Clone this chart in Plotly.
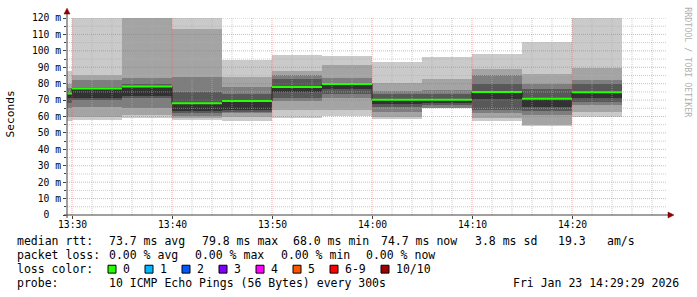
import plotly.graph_objects as go
from datetime import datetime, timedelta

# ---------------- data ----------------
period_start = [
    "2026-01-23 13:25:00", "2026-01-23 13:30:00", "2026-01-23 13:35:00",
    "2026-01-23 13:40:00", "2026-01-23 13:45:00", "2026-01-23 13:50:00",
    "2026-01-23 13:55:00", "2026-01-23 14:00:00", "2026-01-23 14:05:00",
    "2026-01-23 14:10:00", "2026-01-23 14:15:00", "2026-01-23 14:20:00",
]
# sorted ping round-trip times (ms), ping01 = fastest, ping10 = slowest
ping01 = [57.4, 58.0, 59.0, 57.6, 57.0, 59.0, 60.5, 58.4, 64.9, 57.0, 54.5, 59.5]
ping02 = [60.0, 60.0, 61.0, 59.0, 60.0, 64.0, 64.0, 59.6, 65.0, 59.0, 55.0, 63.0]
ping03 = [65.4, 66.0, 65.0, 60.4, 62.0, 69.4, 71.0, 63.0, 65.1, 62.0, 61.0, 67.0]
ping04 = [68.0, 70.0, 71.4, 62.0, 63.0, 71.4, 74.0, 66.0, 66.8, 64.0, 63.6, 69.0]
ping05 = [71.0, 71.4, 72.5, 63.6, 64.0, 75.0, 76.6, 67.6, 68.0, 70.4, 66.0, 71.0]
ping06 = [74.0, 77.0, 78.2, 68.0, 69.4, 78.0, 79.8, 70.2, 70.2, 75.0, 70.8, 74.7]
ping07 = [75.0, 78.0, 79.5, 75.0, 73.5, 83.0, 80.6, 73.5, 73.5, 80.0, 76.6, 80.0]
ping08 = [77.4, 82.0, 83.4, 84.0, 78.0, 85.0, 83.4, 75.5, 76.0, 85.4, 80.0, 82.0]
ping09 = [80.0, 85.0, 125.0, 113.0, 84.0, 88.0, 91.6, 80.4, 83.0, 89.0, 86.0, 89.6]
ping10 = [88.0, 130.0, 135.0, 130.0, 94.5, 97.4, 97.0, 93.0, 96.0, 98.0, 105.5, 125.0]
median_rtt = [74.0, 77.0, 78.2, 68.0, 69.4, 78.0, 79.8, 70.2, 70.2, 75.0, 70.8, 74.7]

y_tick_values = [0, 10, 20, 30, 40, 50, 60, 70, 80, 90, 100, 110, 120]
y_tick_labels = ["0\u00a0\u00a0", "10 m", "20 m", "30 m", "40 m", "50 m", "60 m", "70 m",
                 "80 m", "90 m", "100 m", "110 m", "120 m"]
x_tick_times = ["2026-01-23 13:30:00", "2026-01-23 13:40:00", "2026-01-23 13:50:00",
                "2026-01-23 14:00:00", "2026-01-23 14:10:00", "2026-01-23 14:20:00"]
x_tick_labels = ["13:30", "13:40", "13:50", "14:00", "14:10", "14:20"]

loss_labels = ["0", "1", "2", "3", "4", "5", "6-9", "10/10"]
loss_colors = ["#26ff00", "#00b8ff", "#0059ff", "#7e00ff", "#ff00ff",
               "#ff5500", "#ff0000", "#a10000"]

stats_line1 = ["median rtt:", "73.7 ms avg", "79.8 ms max", "68.0 ms min",
               "74.7 ms now", "3.8 ms sd", "19.3", "am/s"]
stats_line2 = ["packet loss:", "0.00 % avg", "0.00 % max", "0.00 % min", "0.00 % now"]
probe_text = "10 ICMP Echo Pings (56 Bytes) every 300s"
stamp_text = "Fri Jan 23 14:29:29 2026"

# ---------------- layout helpers ----------------
W, H = 697, 297
L, R, T, B = 67, 30, 15, 82
PW, PH = W - L - R, H - T - B
def px(p):  # pixel x -> paper
    return (p - L) / PW
def py(p):  # pixel y -> paper
    return (T + PH - p) / PH

MONO = "DejaVu Sans Mono"
STEP = timedelta(minutes=5)
starts = [datetime.fromisoformat(s) for s in period_start]
ends = [s + STEP for s in starts]
x0 = datetime(2026, 1, 23, 13, 29, 30)
x1 = datetime(2026, 1, 23, 14, 29, 30)
major_x = [datetime.fromisoformat(s) for s in x_tick_times]

fig = go.Figure()

# smoke bands
band_colors = ["#cacaca", "#a4a4a4", "#7e7e7e", "#585858", "#323232"]
lows = [ping01, ping02, ping03, ping04, ping05]
highs = [ping10, ping09, ping08, ping07, ping06]
for lo, hi, col in zip(lows, highs, band_colors):
    fig.add_trace(go.Bar(
        x=starts, base=lo, y=[h - l for h, l in zip(hi, lo)],
        width=STEP.total_seconds() * 1000, offset=0,
        marker=dict(color=col, line=dict(width=0)),
        hoverinfo="skip", showlegend=False))

# grid drawn above the smoke
minor_x = []
t = major_x[0]
while t < x1:
    if t.minute % 10 != 0:
        minor_x.append(t)
    t += timedelta(minutes=2)
minor_y = [v + 5 for v in y_tick_values[:-1]]
major_y = y_tick_values[1:]

def grid_trace(xs, ys, color):
    gx, gy = [], []
    for xv in xs:
        gx += [xv, xv, None]; gy += [0, 120, None]
    for yv in ys:
        gx += [x0, x1, None]; gy += [yv, yv, None]
    return go.Scatter(x=gx, y=gy, mode="lines",
                      line=dict(color=color, width=1, dash="1px,1px"),
                      hoverinfo="skip", showlegend=False)

fig.add_trace(grid_trace(minor_x, minor_y, "rgba(175,175,175,0.65)"))
fig.add_trace(grid_trace(major_x, major_y, "rgba(225,90,90,0.5)"))

# median: thin dark step line + green loss-coloured segments
fig.add_trace(go.Scatter(
    x=starts + [ends[-1]], y=median_rtt + [median_rtt[-1]],
    mode="lines", line=dict(color="#202020", width=1, shape="hv"),
    hoverinfo="skip", showlegend=False))
gx, gy = [], []
for s, e, m in zip(starts, ends, median_rtt):
    gx += [s, e, None]; gy += [m, m, None]
fig.add_trace(go.Scatter(
    x=gx, y=gy, mode="lines", line=dict(color=loss_colors[0], width=2),
    hoverinfo="skip", showlegend=False))

axis_col = "#404040"
fig.update_xaxes(
    type="date", range=[x0, x1], tickmode="array",
    tickvals=major_x, showticklabels=False,
    ticks="outside", ticklen=3, tickcolor=axis_col,
    showgrid=False, zeroline=False, showline=False)
fig.update_yaxes(
    range=[0, 120], tickmode="array",
    tickvals=y_tick_values, ticktext=y_tick_labels,
    ticks="outside", ticklen=3, tickcolor=axis_col,
    minor=dict(tickvals=minor_y, ticks="outside", ticklen=2, tickcolor=axis_col),
    showgrid=False, zeroline=False, showline=False,
    tickfont=dict(family=MONO, size=9.7, color="#000"))

shapes = [
    dict(type="line", xref="paper", yref="paper", x0=0, x1=0, y0=py(218), y1=py(10),
         line=dict(color=axis_col, width=1)),
    dict(type="line", xref="paper", yref="paper", x0=px(64), x1=px(669), y0=0, y1=0,
         line=dict(color=axis_col, width=1)),
    dict(type="path", xref="paper", yref="paper",
         path=f"M {px(64)},{py(11)} L {px(70)},{py(11)} L {px(67)},{py(5)} Z",
         fillcolor="#8b0000", line=dict(color="#8b0000", width=0.5)),
    dict(type="path", xref="paper", yref="paper",
         path=f"M {px(668)},{py(212)} L {px(668)},{py(218)} L {px(674)},{py(215)} Z",
         fillcolor="#8b0000", line=dict(color="#8b0000", width=0.5)),
]

annotations = []
def text(xpix, ypix, s, size=11.5, anchor="left", color="#000", angle=0):
    annotations.append(dict(
        x=px(xpix), y=py(ypix), xref="paper", yref="paper", text=s,
        showarrow=False, xanchor=anchor, yanchor="middle", textangle=angle,
        borderpad=0, font=dict(family=MONO, size=size, color=color)))

# x tick labels placed at their data positions
for tv, lab in zip(major_x, x_tick_labels):
    annotations.append(dict(x=tv, y=py(224.5), xref="x", yref="paper", text=lab,
                            showarrow=False, xanchor="center", yanchor="middle",
                            borderpad=0, font=dict(family=MONO, size=9.7, color="#000")))

line1_x = [16, 108, 201, 292, 380, 474, 557, 606]
for xp, s in zip(line1_x, stats_line1):
    text(xp, 241, s.replace(" ", "&nbsp;"))
line2_x = [16, 108, 194, 280, 365]
for xp, s in zip(line2_x, stats_line2):
    text(xp, 256, s.replace(" ", "&nbsp;"))
text(16, 270, "loss&nbsp;color:")
box_x = [108, 145, 182, 219, 256, 293, 330, 381]
for xp, lab, col in zip(box_x, loss_labels, loss_colors):
    shapes.append(dict(type="rect", xref="paper", yref="paper",
                       x0=px(xp), x1=px(xp + 8), y0=py(274), y1=py(266),
                       fillcolor=col, line=dict(color="#000", width=1)))
    text(xp + 14, 270, lab)
text(16, 284, "probe:")
text(108, 284, probe_text.replace(" ", "&nbsp;"))
text(680, 284, stamp_text.replace(" ", "&nbsp;"), anchor="right")

annotations.append(dict(x=px(11), y=py(113), xref="paper", yref="paper",
                        text="Seconds", showarrow=False, textangle=-90,
                        xanchor="center", yanchor="middle",
                        font=dict(family=MONO, size=11.2, color="#000")))
annotations.append(dict(x=px(688), y=py(60), xref="paper", yref="paper",
                        text="RRDTOOL&nbsp;/&nbsp;TOBI&nbsp;OETIKER", showarrow=False,
                        textangle=90, xanchor="center", yanchor="middle",
                        font=dict(family=MONO, size=8.3, color="#b0b0b0")))

fig.update_layout(
    width=W, height=H, margin=dict(l=L, r=R, t=T, b=B, pad=0),
    paper_bgcolor="white", plot_bgcolor="white",
    barmode="overlay", bargap=0, showlegend=False,
    shapes=shapes, annotations=annotations)

fig.write_html("out.html", include_plotlyjs=True, full_html=True,
               config={"displayModeBar": False})
